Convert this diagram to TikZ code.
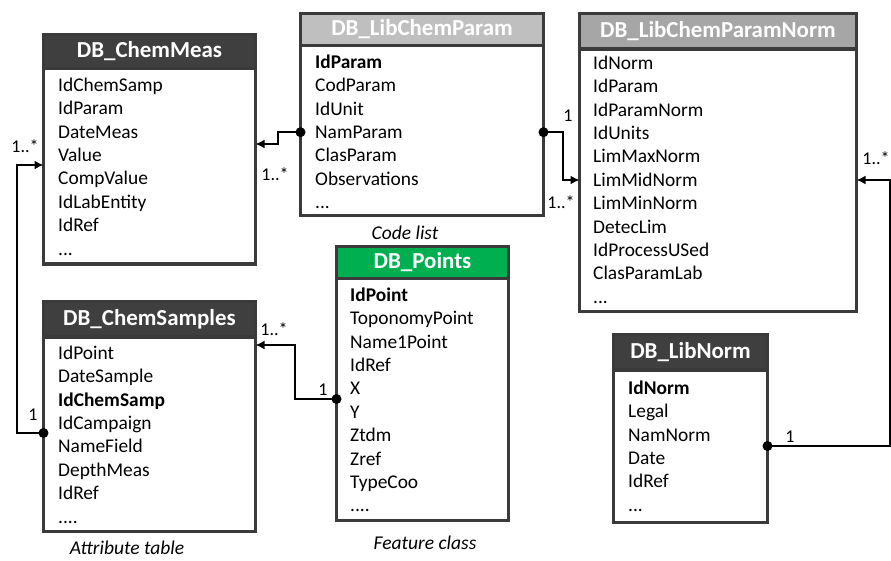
\documentclass[tikz,border=0pt]{standalone}
\usepackage{fontspec}
\setmainfont{Carlito}
\usetikzlibrary{arrows.meta}
\definecolor{frame}{HTML}{3A3A3A}
\definecolor{hdrdark}{HTML}{3F3F3F}
\definecolor{hdrlight}{HTML}{BFBFBF}
\definecolor{hdrmid}{HTML}{A6A6A6}
\definecolor{hdrgreen}{HTML}{00B050}
\newcommand\threedots{...}
\newcommand\fourdots{....}
\tikzset{
	hdr/.style={draw=frame, line width=3.5pt, outer sep=0pt, inner sep=0pt, anchor=north west, text=white, font=\fontsize{22.9}{26}\selectfont\bfseries},
	tbl/.style={draw=frame, fill=white, line width=3.5pt, outer sep=0pt, inner sep=0pt, anchor=north west},
	row/.style={anchor=west, inner sep=0pt, text height=12.5pt, text depth=0pt, font=\fontsize{19.4}{23}\selectfont},
	card/.style={inner sep=0pt, font=\fontsize{18}{20}\selectfont},
	tblcaption/.style={inner sep=0pt, font=\fontsize{19.5}{22}\selectfont\itshape},
	dot/.style={circle, fill=black, inner sep=0pt, minimum size=10pt},
	link/.style={-{Latex[length=9pt,width=9pt]}, line width=1.8pt}
}
\begin{document}
\begin{tikzpicture}[x=1pt,y=-1pt]
	\useasboundingbox (0,0) rectangle (891,560);
	% tables
	\node[hdr, fill=hdrdark, minimum width=212pt, minimum height=34pt] (cm-h) at (43.5,34.5) {DB\_ChemMeas};
	\node[tbl, minimum width=212pt, minimum height=195.5pt] (cm) at (cm-h.south west) {};
	\node[hdr, fill=hdrlight, minimum width=243pt, minimum height=32pt] (lcp-h) at (300.5,13.5) {DB\_LibChemParam};
	\node[tbl, minimum width=243pt, minimum height=170pt] (lcp) at (lcp-h.south west) {};
	\node[hdr, fill=hdrmid, minimum width=277pt, minimum height=35.5pt] (lcpn-h) at (579.5,13.5) {DB\_LibChemParamNorm};
	\node[tbl, minimum width=277pt, minimum height=262.5pt] (lcpn) at (lcpn-h.south west) {};
	\node[hdr, fill=hdrdark, minimum width=212pt, minimum height=35.5pt] (cs-h) at (43.5,301.5) {DB\_ChemSamples};
	\node[tbl, minimum width=212pt, minimum height=194.5pt] (cs) at (cs-h.south west) {};
	\node[hdr, fill=hdrgreen, minimum width=172pt, minimum height=32pt] (pt-h) at (336.5,246.5) {DB\_Points};
	\node[tbl, minimum width=172pt, minimum height=242pt] (pt) at (pt-h.south west) {};
	\node[hdr, fill=hdrdark, minimum width=154pt, minimum height=35.5pt] (ln-h) at (613.5,334.5) {DB\_LibNorm};
	\node[tbl, minimum width=154pt, minimum height=152.5pt] (ln) at (ln-h.south west) {};
	% fields
	\foreach \t [count=\i] in {IdChemSamp, IdParam, DateMeas, Value, CompValue, IdLabEntity, IdRef, \threedots}
		\node[row] (cm-\i) at (58,{61.6+23.4*\i}) {\t};
	\foreach \t [count=\i] in {\textbf{IdParam}, CodParam, IdUnit, NamParam, ClasParam, Observations, \threedots}
		\node[row] (lcp-\i) at (315,{38.6+23.4*\i}) {\t};
	\foreach \t [count=\i] in {IdNorm, IdParam, IdParamNorm, IdUnits, LimMaxNorm, LimMidNorm, LimMinNorm, DetecLim, IdProcessUSed, ClasParamLab, \threedots}
		\node[row] (lcpn-\i) at (593,{39.6+23.4*\i}) {\t};
	\foreach \t [count=\i] in {IdPoint, DateSample, \textbf{IdChemSamp}, IdCampaign, NameField, DepthMeas, IdRef, \fourdots}
		\node[row] (cs-\i) at (58,{329.6+23.4*\i}) {\t};
	\foreach \t [count=\i] in {\textbf{IdPoint}, ToponomyPoint, Name1Point, IdRef, X, Y, Ztdm, Zref, TypeCoo, \fourdots}
		\node[row] (pt-\i) at (350,{271.6+23.4*\i}) {\t};
	\foreach \t [count=\i] in {\textbf{IdNorm}, Legal, NamNorm, Date, IdRef, \threedots}
		\node[row] (ln-\i) at (628,{364.6+23.4*\i}) {\t};
	\node[tblcaption] (cl) at (405,233) {Code list};
	\node[tblcaption] (at) at (127,548) {Attribute table};
	\node[tblcaption] (fc) at (425,543) {Feature class};
	% relations
	\coordinate (j1) at (278,144);
	\coordinate (j2) at (563,0);
	\coordinate (j3) at (17,165);
	\coordinate (j4) at (295,345);
	\coordinate (j5) at (890,0);
	\node[dot] (d1) at (lcp.west |- lcp-4) {};
	\node[dot] (d2) at (lcp.east |- lcp-4) {};
	\node[dot] (d3) at (43.5,433) {};
	\node[dot] (d4) at (336.5,399) {};
	\node[dot] (d5) at (767.5,446) {};
	\draw[link] (d1.center) -| (j1) -- (cm.east |- j1);
	\draw[link] (d2.center) -| (j2 |- lcpn-6) -- (lcpn.west |- lcpn-6);
	\draw[link] (d3.center) -| (j3) -- (cm.west |- j3);
	\draw[link] (d4.center) -| (j4) -- (cs.east |- j4);
	\draw[link] (d5.center) -| (j5 |- lcpn-6) -- (lcpn.east |- lcpn-6);
	\node[card] (n1) at (275,174) {1..*};
	\node[card] (n2) at (568,116) {1};
	\node[card] (n3) at (561,202) {1..*};
	\node[card] (n4) at (25,146) {1..*};
	\node[card] (n5) at (33,415) {1};
	\node[card] (n6) at (274,329) {1..*};
	\node[card] (n7) at (323,390) {1};
	\node[card] (n8) at (876,158) {1..*};
	\node[card] (n9) at (790,437) {1};
\end{tikzpicture}
\end{document}
